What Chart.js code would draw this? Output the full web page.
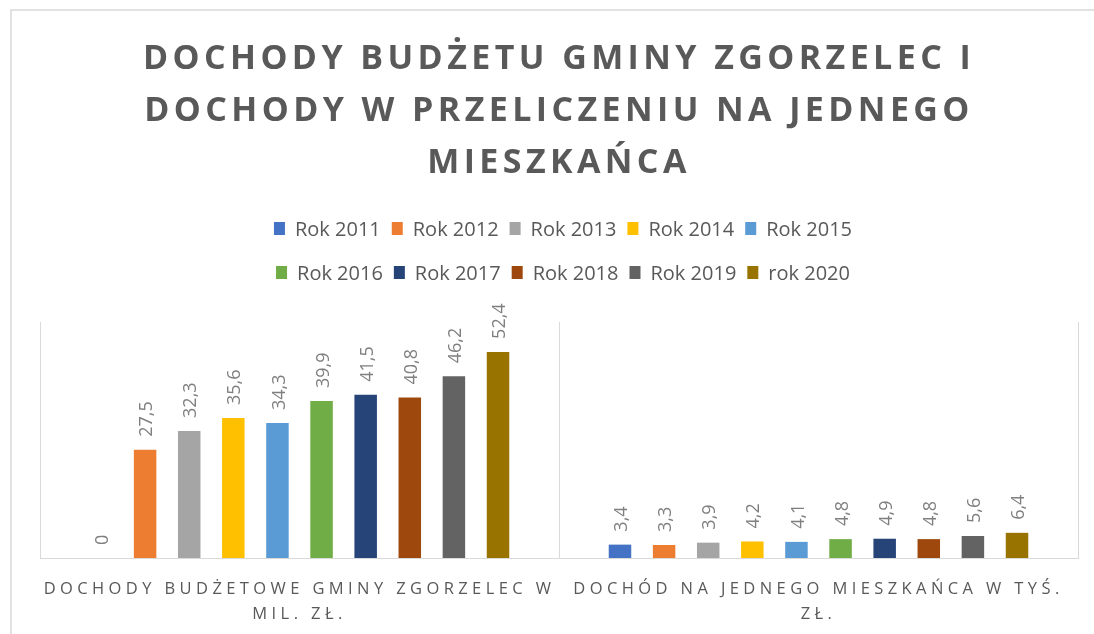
<!DOCTYPE html>
<html>
<head>
<meta charset="utf-8">
<script src="https://cdn.jsdelivr.net/npm/chart.js@4/dist/chart.umd.min.js"></script>
<style>
  html, body { margin: 0; padding: 0; background: #ffffff; }
  #wrap { position: relative; width: 1094px; height: 634px; }
</style>
</head>
<body>
<div id="wrap"><canvas id="c" width="1094" height="634"></canvas></div>
<script>
const categories = [
  ['DOCHODY BUDŻETOWE GMINY ZGORZELEC W', 'MIL. ZŁ.'],
  ['DOCHÓD NA JEDNEGO MIESZKAŃCA W TYŚ.', 'ZŁ.']
];
const seriesNames = ['Rok 2011', 'Rok 2012', 'Rok 2013', 'Rok 2014', 'Rok 2015',
                     'Rok 2016', 'Rok 2017', 'Rok 2018', 'Rok 2019', 'rok 2020'];
const seriesColors = ['#4472C4', '#ED7D31', '#A5A5A5', '#FFC000', '#5B9BD5',
                      '#70AD47', '#264478', '#9E480E', '#636363', '#997300'];
const budgetMln = [0, 27.5, 32.3, 35.6, 34.3, 39.9, 41.5, 40.8, 46.2, 52.4];
const perCapitaThous = [3.4, 3.3, 3.9, 4.2, 4.1, 4.8, 4.9, 4.8, 5.6, 6.4];
const titleLines = ['DOCHODY BUDŻETU GMINY ZGORZELEC I', 'DOCHODY W PRZELICZENIU NA JEDNEGO', 'MIESZKAŃCA'];

const datasets = seriesNames.map((name, i) => ({
  label: name,
  data: [budgetMln[i], perCapitaThous[i]],
  backgroundColor: seriesColors[i],
  borderWidth: 0,
  barPercentage: 0.51,
  categoryPercentage: 0.85
}));

const fmt = v => String(v).replace('.', ',');

const framePlugin = {
  id: 'frame',
  beforeDraw(chart) {
    const ctx = chart.ctx;
    ctx.save();
    ctx.fillStyle = '#ffffff';
    ctx.fillRect(0, 0, chart.width, chart.height);
    ctx.strokeStyle = '#d9d9d9';
    ctx.lineWidth = 1.5;
    ctx.strokeRect(11, 10, chart.width + 40, chart.height + 40);
    ctx.restore();
    ctx.letterSpacing = '4.4px';
  },
  afterDatasetsDraw(chart) {
    const ctx = chart.ctx;
    ctx.save();
    ctx.letterSpacing = '0px';
    ctx.fillStyle = '#7f7f7f';
    ctx.font = '18px "Open Sans"';
    ctx.textAlign = 'left';
    ctx.textBaseline = 'middle';
    chart.data.datasets.forEach((ds, di) => {
      const meta = chart.getDatasetMeta(di);
      meta.data.forEach((bar, j) => {
        ctx.save();
        ctx.translate(bar.x + 2, bar.y - 13);
        ctx.rotate(-Math.PI / 2);
        ctx.fillText(fmt(ds.data[j]), 0, 0);
        ctx.restore();
      });
    });
    ctx.restore();
    ctx.letterSpacing = '5.5px';
  },
  afterDraw(chart) {
    const ctx = chart.ctx;
    ctx.save();
    ctx.letterSpacing = '0px';
    ctx.font = '20px "Open Sans"';
    ctx.textBaseline = 'middle';
    ctx.textAlign = 'left';
    const rows = [[0, 1, 2, 3, 4], [5, 6, 7, 8, 9]];
    const rowY = [230, 274];
    const boxW = 11, boxH = 13, gapText = 10, gapItem = 11;
    const cx = (chart.chartArea.left + chart.chartArea.right) / 2 + 4;
    rows.forEach((row, r) => {
      const widths = row.map(i => boxW + gapText + ctx.measureText(chart.data.datasets[i].label).width);
      const total = widths.reduce((a, b) => a + b, 0) + gapItem * (row.length - 1);
      let x = cx - total / 2;
      row.forEach((i, k) => {
        const ds = chart.data.datasets[i];
        ctx.fillStyle = ds.backgroundColor;
        ctx.fillRect(x, rowY[r] - 8, boxW, boxH);
        ctx.fillStyle = '#595959';
        ctx.fillText(ds.label, x + boxW + gapText, rowY[r]);
        x += widths[k] + gapItem;
      });
    });
    ctx.restore();
    ctx.letterSpacing = '0px';
  }
};

new Chart(document.getElementById('c'), {
  type: 'bar',
  data: { labels: categories, datasets: datasets },
  options: {
    responsive: false,
    animation: false,
    layout: { padding: { left: 40, right: 16, top: 0, bottom: -12 } },
    plugins: {
      legend: { display: false },
      tooltip: { enabled: false },
      title: {
        display: true,
        text: titleLines,
        color: '#595959',
        font: { family: '"Open Sans"', size: 34, weight: 'bold', lineHeight: '52px' },
        padding: { top: 33, bottom: 133 }
      }
    },
    scales: {
      x: {
        z: 1,
        grid: { display: true, color: '#d9d9d9', lineWidth: 1, drawTicks: false, offset: true },
        border: { display: true, color: '#d9d9d9', width: 1 },
        ticks: {
          color: '#595959',
          font: { family: '"Open Sans"', size: 16.5, lineHeight: '25px' },
          padding: 19,
          maxRotation: 0,
          minRotation: 0,
          autoSkip: false
        }
      },
      y: {
        display: false,
        min: 0,
        max: 60
      }
    }
  },
  plugins: [framePlugin]
});
</script>
</body>
</html>
